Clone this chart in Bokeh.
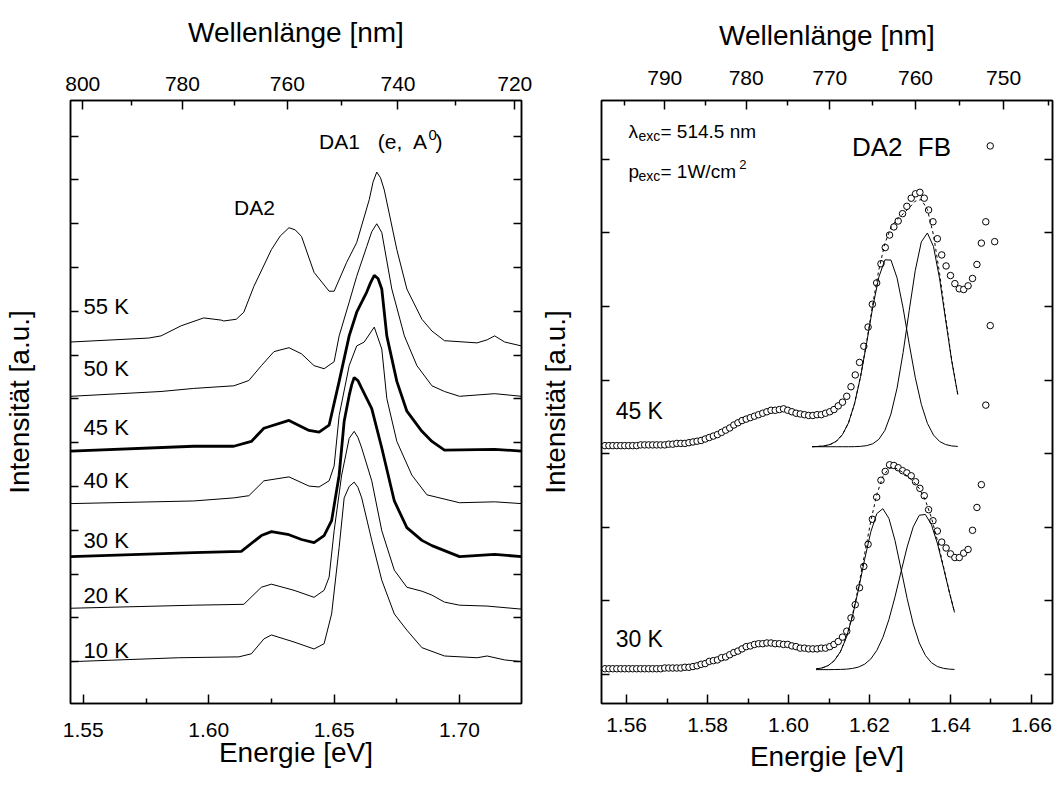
from bokeh.plotting import figure
from bokeh.models import (Range1d, LinearAxis, FixedTicker, CustomJSTickFormatter,
                          PrintfTickFormatter, Label)
from bokeh.layouts import row
from bokeh.embed import file_html
from bokeh.resources import INLINE

FONT = "Liberation Sans"
HC = 1239.84  # eV * nm

# ---------------- left panel: PL spectra vs temperature ----------------
e_55K = [1.545, 1.576, 1.581, 1.589, 1.598, 1.605, 1.606, 1.611, 1.614, 1.618, 1.625, 1.6285, 1.632, 1.6345,
         1.637, 1.642, 1.648, 1.650, 1.655, 1.659, 1.664, 1.6655, 1.667, 1.6685, 1.670, 1.675, 1.679, 1.685,
         1.689, 1.694, 1.707, 1.711, 1.714, 1.718, 1.7247]
i_55K = [8.30, 8.39, 8.44, 8.67, 8.85, 8.80, 8.78, 8.82, 8.98, 9.57, 10.41, 10.72, 10.91, 10.86,
         10.71, 9.89, 9.46, 9.46, 10.12, 10.57, 11.55, 11.95, 12.18, 12.05, 11.77, 10.41, 9.51, 8.82,
         8.55, 8.33, 8.28, 8.35, 8.44, 8.30, 8.21]
e_50K = [1.545, 1.581, 1.594, 1.610, 1.616, 1.621, 1.626, 1.632, 1.637, 1.642, 1.646, 1.650, 1.652, 1.656,
         1.659, 1.663, 1.665, 1.667, 1.669, 1.673, 1.678, 1.683, 1.689, 1.694, 1.700, 1.714, 1.7247]
i_50K = [7.06, 7.17, 7.24, 7.30, 7.42, 7.76, 8.08, 8.17, 8.03, 7.76, 7.69, 7.85, 8.44, 9.21,
         9.80, 10.48, 10.82, 11.00, 10.80, 9.51, 8.44, 7.76, 7.30, 7.17, 7.06, 7.12, 7.06]
e_45K = [1.545, 1.594, 1.610, 1.617, 1.622, 1.632, 1.640, 1.644, 1.648, 1.652, 1.656, 1.659, 1.663, 1.6645,
         1.666, 1.6675, 1.669, 1.671, 1.675, 1.679, 1.685, 1.689, 1.694, 1.714, 1.7247]
i_45K = [5.81, 5.92, 5.92, 6.03, 6.33, 6.51, 6.28, 6.24, 6.40, 7.40, 8.44, 8.98, 9.44, 9.65,
         9.82, 9.75, 9.51, 8.44, 7.40, 6.72, 6.26, 6.03, 5.83, 5.85, 5.81]
e_40K = [1.545, 1.594, 1.610, 1.616, 1.622, 1.632, 1.640, 1.644, 1.648, 1.650, 1.652, 1.656, 1.659, 1.662,
         1.666, 1.669, 1.671, 1.675, 1.681, 1.687, 1.700, 1.714, 1.7247]
i_40K = [4.61, 4.67, 4.74, 4.79, 5.13, 5.22, 5.01, 4.99, 5.13, 5.47, 6.62, 7.76, 8.21, 8.30,
         8.64, 8.14, 7.01, 6.03, 5.26, 4.81, 4.63, 4.65, 4.61]
e_30K = [1.545, 1.594, 1.613, 1.621, 1.625, 1.632, 1.637, 1.642, 1.646, 1.649, 1.652, 1.654, 1.656, 1.657,
         1.658, 1.6595, 1.661, 1.665, 1.669, 1.674, 1.679, 1.685, 1.689, 1.700, 1.714, 1.7247]
i_30K = [3.40, 3.49, 3.52, 3.88, 3.97, 3.90, 3.79, 3.72, 3.88, 4.22, 5.26, 6.49, 7.08, 7.32,
         7.49, 7.42, 7.24, 6.78, 5.88, 4.67, 4.06, 3.77, 3.65, 3.40, 3.45, 3.40]
e_20K = [1.545, 1.594, 1.614, 1.621, 1.625, 1.634, 1.642, 1.646, 1.648, 1.650, 1.653, 1.656, 1.658, 1.6595,
         1.661, 1.665, 1.669, 1.674, 1.679, 1.685, 1.689, 1.694, 1.700, 1.711, 1.7247]
i_20K = [2.22, 2.29, 2.31, 2.70, 2.77, 2.63, 2.47, 2.63, 2.93, 3.99, 5.26, 6.10, 6.26, 6.12,
         5.88, 5.13, 3.99, 3.09, 2.70, 2.61, 2.52, 2.36, 2.29, 2.27, 2.20]
e_10K = [1.545, 1.588, 1.612, 1.617, 1.622, 1.625, 1.634, 1.642, 1.646, 1.649, 1.652, 1.654, 1.656, 1.658,
         1.6595, 1.661, 1.665, 1.669, 1.674, 1.679, 1.685, 1.694, 1.707, 1.711, 1.718, 1.7247]
i_10K = [1.00, 1.09, 1.11, 1.18, 1.52, 1.61, 1.45, 1.29, 1.41, 2.09, 3.61, 4.74, 5.00, 5.10,
         4.98, 4.74, 3.77, 2.86, 2.09, 1.72, 1.32, 1.13, 1.09, 1.13, 1.04, 1.00]

left_curves = [(e_10K, i_10K, 1.0), (e_20K, i_20K, 1.0), (e_30K, i_30K, 2.8), (e_40K, i_40K, 1.0),
               (e_45K, i_45K, 2.8), (e_50K, i_50K, 1.0), (e_55K, i_55K, 1.0)]
left_temp_labels = ["10 K", "20 K", "30 K", "40 K", "45 K", "50 K", "55 K"]
left_temp_label_y = [1.25, 2.50, 3.77, 5.13, 6.35, 7.69, 9.10]

left_e_major = [1.55, 1.60, 1.65, 1.70]
left_e_minor = [1.575, 1.625, 1.675]
left_wl_major = [800, 780, 760, 740, 720]
left_wl_minor = [790, 770, 750, 730]
left_y_ticks = [1, 2, 3, 4, 5, 6, 7, 8, 9, 10, 11, 12, 13]

# ---------------- right panel: measured points + Gaussian fits ----------------
wavelength_nm = [797.5, 797.0, 796.5, 796.0, 795.5, 795.0, 794.5, 794.0, 793.5, 793.0,
                 792.5, 792.0, 791.5, 791.0, 790.5, 790.0, 789.5, 789.0, 788.5, 788.0,
                 787.5, 787.0, 786.5, 786.0, 785.5, 785.0, 784.5, 784.0, 783.5, 783.0,
                 782.5, 782.0, 781.5, 781.0, 780.5, 780.0, 779.5, 779.0, 778.5, 778.0,
                 777.5, 777.0, 776.5, 776.0, 775.5, 775.0, 774.5, 774.0, 773.5, 773.0,
                 772.5, 772.0, 771.5, 771.0, 770.5, 770.0, 769.5, 769.0, 768.5, 768.0,
                 767.5, 767.0, 766.5, 766.0, 765.5, 765.0, 764.5, 764.0, 763.5, 763.0,
                 762.5, 762.0, 761.5, 761.0, 760.5, 760.0, 759.5, 759.0, 758.5, 758.0,
                 757.5, 757.0, 756.5, 756.0, 755.5, 755.0, 754.5, 754.0, 753.5, 753.0,
                 752.5, 752.0, 751.5, 751.0]
pts_30K = [0.08, 0.08, 0.08, 0.08, 0.08, 0.08, 0.08, 0.08, 0.08, 0.08,
           0.08, 0.08, 0.08, 0.08, 0.08, 0.09, 0.09, 0.09, 0.09, 0.09,
           0.10, 0.10, 0.11, 0.12, 0.14, 0.15, 0.18, 0.19, 0.20, 0.23,
           0.24, 0.27, 0.30, 0.32, 0.35, 0.38, 0.39, 0.41, 0.42, 0.42,
           0.43, 0.43, 0.42, 0.42, 0.41, 0.41, 0.39, 0.38, 0.36, 0.36,
           0.35, 0.35, 0.35, 0.36, 0.36, 0.38, 0.41, 0.45, 0.51, 0.59,
           0.77, 0.95, 1.18, 1.47, 1.77, 2.11, 2.41, 2.64, 2.76, 2.85,
           2.84, 2.81, 2.77, 2.74, 2.70, 2.62, 2.53, 2.43, 2.24, 2.09,
           1.95, 1.80, 1.72, 1.64, 1.59, 1.59, 1.65, 1.70, 1.96, 2.27,
           2.58]
pts_45K = [3.11, 3.11, 3.11, 3.11, 3.11, 3.11, 3.11, 3.11, 3.11, 3.12,
           3.12, 3.12, 3.12, 3.12, 3.12, 3.12, 3.13, 3.13, 3.14, 3.14,
           3.14, 3.15, 3.16, 3.17, 3.18, 3.20, 3.22, 3.24, 3.26, 3.29,
           3.32, 3.35, 3.39, 3.42, 3.45, 3.47, 3.49, 3.51, 3.53, 3.55,
           3.57, 3.59, 3.59, 3.60, 3.61, 3.59, 3.57, 3.55, 3.54, 3.53,
           3.52, 3.52, 3.53, 3.53, 3.55, 3.57, 3.60, 3.65, 3.70, 3.78,
           3.91, 4.07, 4.24, 4.46, 4.72, 5.03, 5.32, 5.58, 5.80, 5.97,
           6.08, 6.16, 6.26, 6.36, 6.47, 6.53, 6.55, 6.47, 6.31, 6.15,
           5.92, 5.70, 5.55, 5.42, 5.31, 5.24, 5.23, 5.28, 5.38, 5.57,
           5.86, 6.15, 7.18, 5.88]
extra_wl_45K = [752.0, 751.5]
extra_pts_45K = [3.66, 4.74]

fit_e_45K = [1.6058, 1.6073, 1.6088, 1.6103, 1.6118, 1.6133, 1.6148, 1.6163, 1.6178, 1.6193, 1.6208,
             1.6223, 1.6238, 1.6253, 1.6268, 1.6283, 1.6298, 1.6313, 1.6328, 1.6343, 1.6358, 1.6373,
             1.6388, 1.6403, 1.6418]
fit_da2_45K = [3.096, 3.099, 3.106, 3.126, 3.169, 3.258, 3.418, 3.678, 4.048, 4.506, 4.990, 5.398, 5.633,
               5.630, 5.389, 4.977, 4.493, 4.037, 3.670, 3.413, 3.254, 3.167, 3.125, 3.106, 3.099]
fit_fb_45K = [3.095, 3.095, 3.095, 3.095, 3.095, 3.095, 3.095, 3.096, 3.100, 3.110, 3.135, 3.195, 3.317,
              3.539, 3.890, 4.374, 4.942, 5.488, 5.877, 5.998, 5.814, 5.380, 4.819, 4.262, 3.804]
fit_sum_45K = [3.096, 3.099, 3.106, 3.126, 3.169, 3.258, 3.418, 3.679, 4.053, 4.521, 5.030, 5.498, 5.855,
               6.074, 6.184, 6.256, 6.340, 6.430, 6.452, 6.316, 5.973, 5.452, 4.849, 4.273, 3.808]
fit_e_30K = [1.6068, 1.6083, 1.6098, 1.6113, 1.6128, 1.6143, 1.6158, 1.6173, 1.6188, 1.6203, 1.6218,
             1.6233, 1.6248, 1.6263, 1.6278, 1.6293, 1.6308, 1.6323, 1.6338, 1.6353, 1.6368, 1.6383,
             1.6398, 1.6410]
fit_da2_30K = [0.077, 0.091, 0.123, 0.189, 0.309, 0.507, 0.794, 1.162, 1.566, 1.935, 2.186, 2.254, 2.121,
               1.821, 1.431, 1.032, 0.688, 0.431, 0.262, 0.162, 0.109, 0.085, 0.074, 0.071]
fit_fb_30K = [0.068, 0.068, 0.068, 0.069, 0.071, 0.074, 0.084, 0.103, 0.142, 0.212, 0.328, 0.505, 0.749,
              1.057, 1.399, 1.734, 2.007, 2.165, 2.175, 2.036, 1.776, 1.445, 1.101, 0.845]
fit_sum_30K = [0.077, 0.091, 0.123, 0.190, 0.312, 0.513, 0.810, 1.197, 1.640, 2.079, 2.446, 2.691, 2.802,
               2.810, 2.762, 2.698, 2.627, 2.528, 2.369, 2.130, 1.817, 1.462, 1.107, 0.848]

right_e_major = [1.56, 1.58, 1.60, 1.62, 1.64, 1.66]
right_e_minor = [1.57, 1.59, 1.61, 1.63, 1.65]
right_wl_major = [790, 780, 770, 760, 750]
right_wl_minor = [795, 785, 775, 765, 755, 745]
right_y_ticks = [0, 1, 2, 3, 4, 5, 6, 7]


def style_axis(ax, tick_font="21px", label_font="28px"):
    ax.major_tick_in = 9
    ax.major_tick_out = 0
    ax.minor_tick_in = 5
    ax.minor_tick_out = 0
    ax.axis_line_width = 1.5
    ax.major_tick_line_width = 1.5
    ax.minor_tick_line_width = 1.5
    ax.axis_line_color = "black"
    ax.major_tick_line_color = "black"
    ax.minor_tick_line_color = "black"
    ax.major_label_text_font = FONT
    ax.major_label_text_font_size = tick_font
    ax.major_label_text_color = "black"
    ax.axis_label_text_font = FONT
    ax.axis_label_text_font_size = label_font
    ax.axis_label_text_font_style = "normal"
    ax.axis_label_text_color = "black"


def hide_labels(ax):
    ax.major_label_text_color = None
    ax.major_label_text_font_size = "0px"
    ax.major_label_standoff = 0


def make_panel(width, x_range, y_range, borders, e_major, e_minor, wl_major, wl_minor, y_ticks,
               top_standoff, top_label_standoff, bot_standoff, bot_label_standoff, ylab_standoff):
    p = figure(width=width, height=787, x_range=Range1d(*x_range), y_range=Range1d(*y_range),
               output_backend="svg", toolbar_location=None,
               min_border_left=borders[0], min_border_right=borders[1],
               min_border_top=borders[2], min_border_bottom=borders[3])
    p.xgrid.visible = False
    p.ygrid.visible = False
    p.outline_line_color = "black"
    p.outline_line_width = 1.5
    p.background_fill_color = "white"
    p.border_fill_color = "white"

    xb = p.below[0]
    xb.ticker = FixedTicker(ticks=e_major, minor_ticks=e_minor)
    xb.formatter = PrintfTickFormatter(format="%.2f")
    xb.axis_label = "Energie [eV]"
    style_axis(xb)
    xb.major_label_standoff = bot_standoff
    xb.axis_label_standoff = bot_label_standoff

    yl = p.left[0]
    yl.ticker = FixedTicker(ticks=y_ticks)
    yl.axis_label = "Intensität [a.u.]"
    style_axis(yl)
    yl.major_tick_in = 8
    hide_labels(yl)
    yl.axis_label_standoff = ylab_standoff

    top = LinearAxis(ticker=FixedTicker(ticks=[HC / w for w in wl_major],
                                        minor_ticks=[HC / w for w in wl_minor]),
                     formatter=CustomJSTickFormatter(code="return (1239.84 / tick).toFixed(0);"),
                     axis_label="Wellenlänge [nm]")
    style_axis(top)
    top.major_label_standoff = top_standoff
    top.axis_label_standoff = top_label_standoff
    p.add_layout(top, "above")

    yr = LinearAxis(ticker=FixedTicker(ticks=y_ticks))
    style_axis(yr)
    yr.major_tick_in = 8
    hide_labels(yr)
    p.add_layout(yr, "right")
    return p


def add_text(p, x, y, text, size, align="left"):
    p.add_layout(Label(x=x, y=y, text=text, text_font=FONT, text_font_size=size,
                       text_color="black", text_baseline="alphabetic", text_align=align))


# ---- left figure ----
p1 = make_panel(533, (1.5449, 1.7247), (0.045, 13.815), (69, 12, 100, 80),
                left_e_major, left_e_minor, left_wl_major, left_wl_minor, left_y_ticks,
                top_standoff=10, top_label_standoff=26, bot_standoff=19, bot_label_standoff=-3,
                ylab_standoff=36)
for e, i, lw in left_curves:
    p1.line(e, i, line_color="black", line_width=lw)
for t, y in zip(left_temp_labels, left_temp_label_y):
    add_text(p1, 1.5501, y, t, "22px")
add_text(p1, 1.6101, 11.37, "DA2", "21px")
add_text(p1, 1.6440, 12.89, "DA1", "21px")
add_text(p1, 1.6674, 12.89, "(e,", "21px")
add_text(p1, 1.6814, 12.89, "A", "21px")
add_text(p1, 1.6876, 13.02, "0", "15px")
add_text(p1, 1.6904, 12.89, ")", "21px")

# ---- right figure ----
p2 = make_panel(522, (1.5538, 1.6652), (-0.392, 7.797), (68, 3, 97, 84),
                right_e_major, right_e_minor, right_wl_major, right_wl_minor, right_y_ticks,
                top_standoff=16, top_label_standoff=17, bot_standoff=14, bot_label_standoff=6,
                ylab_standoff=31)

e_pts = [HC / w for w in wavelength_nm]
p2.scatter(e_pts[:len(pts_30K)], pts_30K, marker="circle", size=6.5, fill_color="white",
           line_color="black", line_width=1)
p2.scatter(e_pts[:len(pts_45K)], pts_45K, marker="circle", size=6.5, fill_color="white",
           line_color="black", line_width=1)
p2.scatter([HC / w for w in extra_wl_45K], extra_pts_45K, marker="circle", size=6.5,
           fill_color="white", line_color="black", line_width=1)

for ex, da2, fb, sm in [(fit_e_45K, fit_da2_45K, fit_fb_45K, fit_sum_45K),
                        (fit_e_30K, fit_da2_30K, fit_fb_30K, fit_sum_30K)]:
    p2.line(ex, da2, line_color="black", line_width=1)
    p2.line(ex, fb, line_color="black", line_width=1)
    p2.line(ex, sm, line_color="black", line_width=1, line_dash="3 3")

add_text(p2, 1.5605, 7.377, "λ", "19px")
add_text(p2, 1.56296, 7.31, "exc", "14px")
add_text(p2, 1.56837, 7.377, "= 514.5 nm", "19px")
add_text(p2, 1.5605, 6.836, "p", "19px")
add_text(p2, 1.56296, 6.77, "exc", "14px")
add_text(p2, 1.56837, 6.836, "= 1W/cm", "19px")
add_text(p2, 1.5878, 6.93, "2", "13px")
add_text(p2, 1.61566, 7.16, "DA2", "26px")
add_text(p2, 1.63192, 7.16, "FB", "26px")
add_text(p2, 1.55729, 3.58, "45 K", "23px")
add_text(p2, 1.55729, 0.485, "30 K", "23px")

layout = row(p1, p2)
open("out.html", "w").write(file_html(layout, INLINE))
